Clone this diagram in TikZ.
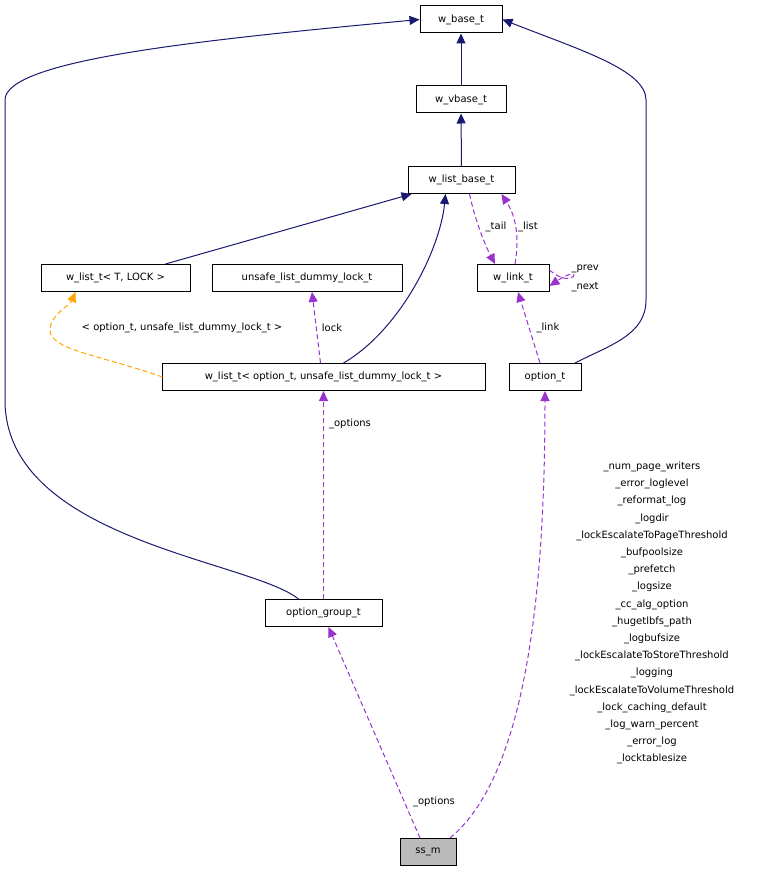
\documentclass[tikz,border=0pt]{standalone}
\usepackage{fontspec}
\setmainfont{DejaVu Sans}
\usetikzlibrary{arrows.meta}
\definecolor{navy}{HTML}{191970}
\definecolor{purp}{HTML}{9A32CD}
\definecolor{orng}{HTML}{FFA500}
\begin{document}
\begin{tikzpicture}[x=1pt,y=-1pt,line width=1pt,
 box/.style={draw,fill=white,inner sep=0pt,minimum height=27pt,font=\fontsize{10}{11}\selectfont},
 inh/.style={navy,-{Triangle[length=10pt,width=9pt]}},
 use/.style={purp,dash pattern=on 5pt off 3pt,-{Triangle[length=10pt,width=9pt]}},
 tmpl/.style={orng,dash pattern=on 5pt off 3pt,-{Triangle[length=10pt,width=9pt]}},
 lbl/.style={font=\fontsize{10}{11}\selectfont,inner sep=1pt}]
\useasboundingbox (0,0) rectangle (767,872);
\node[box,minimum width=82pt] (base) at (461,19.5) {w\_base\_t};
\node[box,minimum width=90pt] (vbase) at (461,99.5) {w\_vbase\_t};
\node[box,minimum width=107pt] (lbase) at (461.5,180) {w\_list\_base\_t};
\node[box,minimum width=149pt] (lt) at (115.5,278) {w\_list\_t< T, LOCK >};
\node[box,minimum width=190pt] (unsafe) at (307,278) {unsafe\_list\_dummy\_lock\_t};
\node[box,minimum width=72pt] (link) at (513,278) {w\_link\_t};
\node[box,minimum width=323pt] (lto) at (323.5,377) {w\_list\_t< option\_t, unsafe\_list\_dummy\_lock\_t >};
\node[box,minimum width=72pt] (opt) at (545,377) {option\_t};
\node[box,minimum width=117pt] (og) at (323.5,613) {option\_group\_t};
\node[box,minimum width=56pt,fill=black!27] (ss) at (428,852) {ss\_m};

\draw[inh] (vbase) -- (base);
\draw[inh] (lbase) -- (vbase);
\draw[inh] ([xshift=50pt]lt.north) -- ([xshift=-50pt]lbase.south);
\draw[inh] ([xshift=20pt]lto.north) .. controls (400,330) and (440,250) .. ([xshift=-16pt]lbase.south);
\draw[inh] ([xshift=-25pt]og.north) .. controls (250,560) and (5,540) .. (5,400) -- (5,100) .. controls (5,60) and (200,40) .. (base.west);
\draw[inh] ([xshift=30pt]opt.north) .. controls (610,345) and (646,335) .. (646,300) -- (646,100) .. controls (646,70) and (580,50) .. (base.east);

\draw[use] ([xshift=2pt]link.north) .. controls (520,235) and (515,215) .. ([xshift=40pt]lbase.south);
\draw[use] ([xshift=8pt]lbase.south) .. controls (475,220) and (485,245) .. ([xshift=-18pt]link.north);
\node[lbl] (ltail) at (496,227) {\_tail};
\node[lbl] (llist) at (528,227) {\_list};
\draw[use] ([yshift=8pt]link.east) .. controls (575,292) and (585,262) .. ([yshift=-8pt]link.east);
\node[lbl,anchor=west] (lprev) at (570,269) {\_prev};
\node[lbl,anchor=west] (lnext) at (570,287) {\_next};
\draw[use] ([xshift=-5pt]opt.north) -- ([xshift=5pt]link.south);
\node[lbl] (llink) at (548,328) {\_link};
\draw[use] ([xshift=-3pt]lto.north) -- ([xshift=5pt]unsafe.south);
\node[lbl] (llock) at (332,328) {lock};
\draw[tmpl] ([xshift=-161pt,yshift=-14pt]lto.north) .. controls (100,355) and (50,350) .. (50,330) .. controls (50,315) and (70,305) .. ([xshift=-40pt]lt.south);
\node[lbl] (ltmpl) at (182,328) {< option\_t, unsafe\_list\_dummy\_lock\_t >};
\draw[use] (og.north) -- (lto.south);
\node[lbl] (lopt1) at (350,424) {\_options};
\draw[use] ([xshift=-8pt]ss.north) -- ([xshift=5pt]og.south);
\node[lbl] (lopt2) at (434,802) {\_options};
\draw[use] ([xshift=22pt]ss.north) .. controls (520,780) and (545,620) .. (opt.south);
\node[lbl,align=center,font=\fontsize{10}{17.2}\selectfont] (lbig) at (652,613) {\_num\_page\_writers\\\_error\_loglevel\\\_reformat\_log\\\_logdir\\\_lockEscalateToPageThreshold\\\_bufpoolsize\\\_prefetch\\\_logsize\\\_cc\_alg\_option\\\_hugetlbfs\_path\\\_logbufsize\\\_lockEscalateToStoreThreshold\\\_logging\\\_lockEscalateToVolumeThreshold\\\_lock\_caching\_default\\\_log\_warn\_percent\\\_error\_log\\\_locktablesize};
\end{tikzpicture}
\end{document}
